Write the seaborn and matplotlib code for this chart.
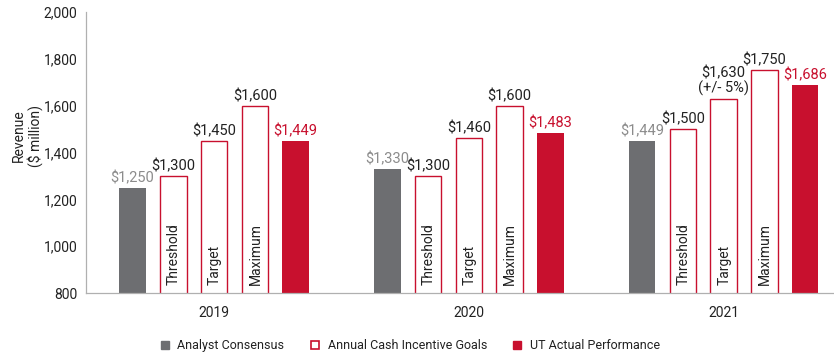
import pandas as pd
import matplotlib
matplotlib.use("Agg")
import matplotlib.pyplot as plt
import seaborn as sns
from matplotlib.patches import Patch

# data ($ million)
years = ["2019", "2020", "2021"]
consensus = [1250, 1330, 1449]
threshold = [1300, 1300, 1500]
target = [1450, 1460, 1630]
maximum = [1600, 1600, 1750]
actual = [1449, 1483, 1686]
series_names = ["Analyst Consensus", "Threshold", "Target", "Maximum", "UT Actual Performance"]
target_labels = ["$1,450", "$1,460", "$1,630\n(+/- 5%)"]

GRAY = "#6d6e71"
RED = "#c8102e"
TEXT = "#222222"

rows = []
for name, vals in zip(series_names, [consensus, threshold, target, maximum, actual]):
    for yr, v in zip(years, vals):
        rows.append({"year": yr, "series": name, "value": v})
df = pd.DataFrame(rows)

sns.set_style("white")
plt.rcParams["font.family"] = ["Roboto", "DejaVu Sans"]

fig, ax = plt.subplots(figsize=(8.34, 3.6), dpi=100)
fig.subplots_adjust(left=0.103, right=0.999, top=0.967, bottom=0.186)

palette = [GRAY, "white", "white", "white", RED]
sns.barplot(data=df, x="year", y="value", hue="series", hue_order=series_names,
            palette=palette, width=0.8, gap=0.35, linewidth=0, saturation=1,
            legend=False, ax=ax)

ax.set_ylim(800, 2000)
ax.set_xlim(-0.503, 2.43)
ax.set_yticks(range(800, 2001, 200))
ax.yaxis.set_major_formatter(matplotlib.ticker.FuncFormatter(lambda v, p: f"{int(v):,}"))
ax.tick_params(axis="y", length=0, pad=6, labelsize=10, labelcolor=TEXT)
ax.tick_params(axis="x", length=0, pad=9, labelsize=10, labelcolor=TEXT)
ax.set_xlabel("")
ax.set_ylabel("Revenue\n($ million)", fontsize=10, color=TEXT, linespacing=1.1)
ax.yaxis.set_label_coords(-0.058, 0.56)
for side in ["top", "right"]:
    ax.spines[side].set_visible(False)
for side in ["left", "bottom"]:
    ax.spines[side].set_color("#b0b0b0")
    ax.spines[side].set_linewidth(0.9)

conts = ax.containers
# outlined goal bars
for c in conts[1:4]:
    for bar in c:
        bar.set_edgecolor(RED)
        bar.set_linewidth(1.0)

def money(vals):
    return [f"${v:,}" for v in vals]

fs = 10.5
ax.bar_label(conts[0], labels=money(consensus), padding=2, fontsize=fs, color="#8c8c8c")
ax.bar_label(conts[1], labels=money(threshold), padding=2, fontsize=fs, color=TEXT)
ax.bar_label(conts[2], labels=target_labels, padding=2, fontsize=fs, color=TEXT, linespacing=1.0)
ax.bar_label(conts[3], labels=money(maximum), padding=2, fontsize=fs, color=TEXT)
ax.bar_label(conts[4], labels=money(actual), padding=2, fontsize=fs, color=RED)

# rotated names inside goal bars
for c, name in zip(conts[1:4], series_names[1:4]):
    for bar in c:
        ax.annotate(name, (bar.get_x() + bar.get_width() / 2, 800), xytext=(0.5, 6),
                    textcoords="offset points", rotation=90, ha="center", va="bottom",
                    fontsize=10, color=TEXT)

handles = [Patch(facecolor=GRAY, edgecolor=GRAY),
           Patch(facecolor="white", edgecolor=RED, linewidth=1.2),
           Patch(facecolor=RED, edgecolor=RED)]
labels = ["Analyst Consensus", "Annual Cash Incentive Goals", "UT Actual Performance"]
fig.legend(handles, labels, loc="center", bbox_to_anchor=(0.492, 0.039), ncol=3,
           frameon=False, fontsize=9, handlelength=0.65, handleheight=0.65,
           handletextpad=0.7, columnspacing=2.1, labelcolor=TEXT)

fig.savefig("out.png", dpi=100)
